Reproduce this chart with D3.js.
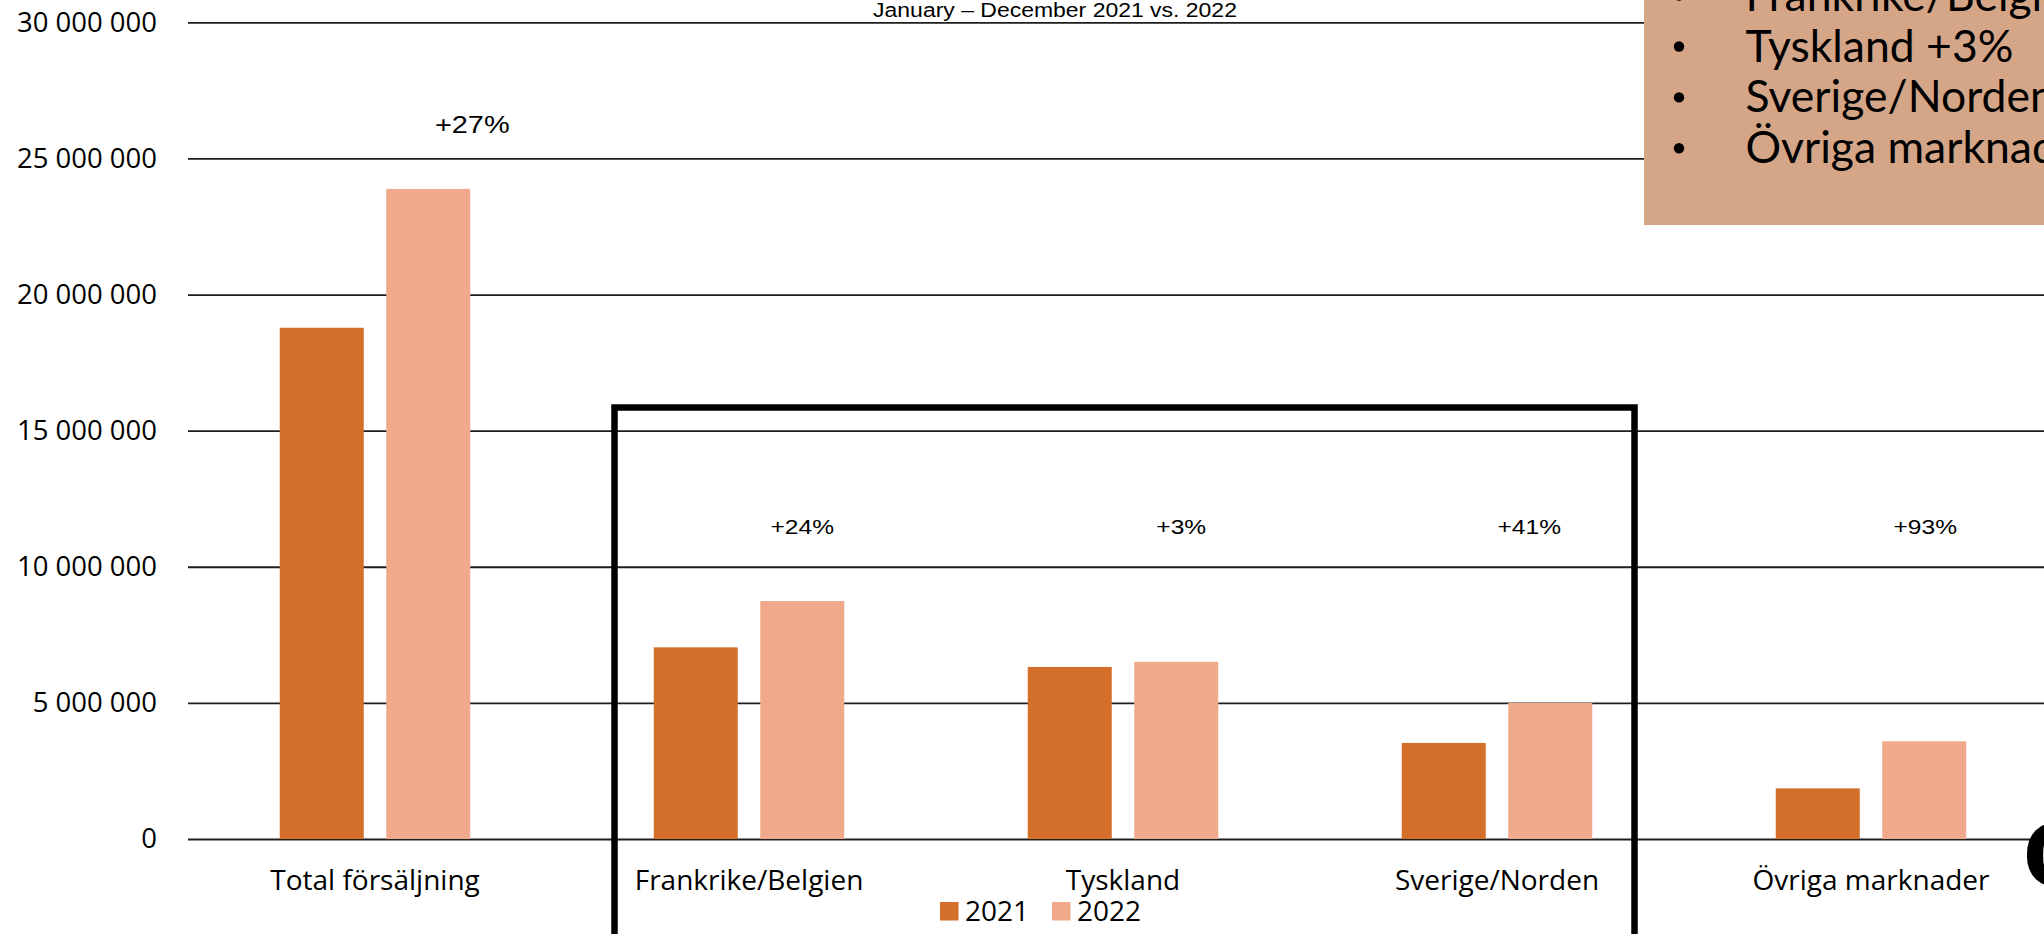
<!DOCTYPE html>
<html>
<head>
<meta charset="utf-8">
<script src="https://cdn.jsdelivr.net/npm/d3@7"></script>
<style>
  body { margin: 0; background: #fff; overflow: hidden; }
  svg { display: block; }
</style>
</head>
<body>
<div id="chart"></div>
<script>
// values (SEK)
var categories = ["Total försäljning", "Frankrike/Belgien", "Tyskland", "Sverige/Norden", "Övriga marknader"];
var years = ["2021", "2022"];
var sales2021 = [18780000, 7040000, 6320000, 3530000, 1860000];
var sales2022 = [23880000, 8740000, 6510000, 5000000, 3590000];
var changeLabels = ["+27%", "+24%", "+3%", "+41%", "+93%"];
var yTicks = [0, 5000000, 10000000, 15000000, 20000000, 25000000, 30000000];
var panelLines = ["Frankrike/Belgien +24%", "Tyskland +3%", "Sverige/Norden +41%", "Övriga marknader +93%"];
var titleText = "January \u2013 December 2021 vs. 2022";

var colors = { "2021": "#D36F2B", "2022": "#F1A98B" };

var W = 2044, H = 934;
var left = 188, right = 2058, zeroY = 839, topY = 22.3;

var data = categories.map(function(c, i) {
    return { cat: c, values: [sales2021[i], sales2022[i]], label: changeLabels[i] };
});

var svg = d3.select("#chart").append("svg")
    .attr("width", W)
    .attr("height", H);

svg.append("rect").attr("width", W).attr("height", H).attr("fill", "#fff");

// scales
var x0 = d3.scaleBand().domain(categories).range([left, right]).padding(0);
var x1 = d3.scaleBand().domain(years).range([0, x0.bandwidth()])
    .paddingInner(0.2113).paddingOuter(0.8615);
var y = d3.scaleLinear().domain([0, 30000000]).range([zeroY, topY]);

var fmt = function(v) { return d3.format(",")(v).replace(/,/g, " "); };

// y axis + gridlines
var yAxis = d3.axisLeft(y)
    .tickValues(yTicks)
    .tickFormat(fmt)
    .tickSize(-(right - left))
    .tickPadding(31);

var gy = svg.append("g")
    .attr("class", "y axis")
    .attr("transform", "translate(" + left + ",0)")
    .call(yAxis);
gy.select(".domain").remove();
gy.selectAll(".tick line").attr("stroke", "#1e1e1e").attr("stroke-width", 1.8);
gy.selectAll(".tick text")
    .attr("fill", "#000")
    .style("font-family", "'Open Sans', sans-serif")
    .style("font-size", "27.5px");

// x axis labels
var xAxis = d3.axisBottom(x0).tickSize(0).tickPadding(31.5);
var gx = svg.append("g")
    .attr("class", "x axis")
    .attr("transform", "translate(0," + zeroY + ")")
    .call(xAxis);
gx.select(".domain").remove();
gx.selectAll(".tick text")
    .attr("fill", "#000")
    .style("font-family", "'Open Sans', sans-serif")
    .style("font-size", "28px");

// bars
var groups = svg.selectAll(".group")
    .data(data)
    .enter().append("g")
    .attr("class", "group")
    .attr("transform", function(d) { return "translate(" + x0(d.cat) + ",0)"; });

groups.selectAll("rect")
    .data(function(d) { return d.values.map(function(v, i) { return { year: years[i], value: v }; }); })
    .enter().append("rect")
    .attr("x", function(d) { return x1(d.year); })
    .attr("y", function(d) { return y(d.value); })
    .attr("width", x1.bandwidth())
    .attr("height", function(d) { return y(0) - y(d.value); })
    .attr("fill", function(d) { return colors[d.year]; });

// highlight box round the three main markets
var boxLeft = x0("Frankrike/Belgien") + 52.5;
var boxRight = x0("Sverige/Norden") + x0.bandwidth() - 49.5;
svg.append("rect")
    .attr("x", boxLeft)
    .attr("y", y(15850000))
    .attr("width", boxRight - boxLeft)
    .attr("height", 700)
    .attr("fill", "none")
    .attr("stroke", "#000")
    .attr("stroke-width", 6.5);

// change labels
var labelNudge = [44, 0, 5, -21, 1];
svg.selectAll(".change")
    .data(data)
    .enter().append("text")
    .attr("class", "change")
    .attr("text-anchor", "middle")
    .attr("transform", function(d, i) {
        var cx = x0(d.cat) + x1("2022") + x1.bandwidth() / 2 + labelNudge[i];
        var by = i === 0 ? 132.7 : 534.3;
        return "translate(" + cx + "," + by + ") scale(1.17,1)";
    })
    .style("font-family", "'Liberation Sans', Arial, sans-serif")
    .style("font-size", function(d, i) { return i === 0 ? "24.7px" : "21px"; })
    .attr("fill", "#000")
    .text(function(d) { return d.label; });

// title (cut at the top edge)
svg.append("text")
    .attr("text-anchor", "middle")
    .attr("transform", "translate(1055,17) scale(1.094,1)")
    .style("font-family", "'Liberation Sans', Arial, sans-serif")
    .style("font-size", "21px")
    .attr("fill", "#000")
    .text(titleText);

// legend
var legend = svg.selectAll(".legend")
    .data(years)
    .enter().append("g")
    .attr("class", "legend")
    .attr("transform", function(d, i) { return "translate(" + (940 + i * 112) + ",902)"; });
legend.append("rect")
    .attr("width", 18.5)
    .attr("height", 18.5)
    .attr("fill", function(d) { return colors[d]; });
legend.append("text")
    .attr("x", 25)
    .attr("y", 18.5)
    .style("font-family", "'Open Sans', sans-serif")
    .style("font-size", "28px")
    .attr("fill", "#000")
    .text(function(d) { return d; });

// summary panel top right
var panel = svg.append("g").attr("class", "panel");
panel.append("rect")
    .attr("x", 1644)
    .attr("y", -10)
    .attr("width", 420)
    .attr("height", 235)
    .attr("fill", "#D4A587");
var lines = panel.selectAll(".pline")
    .data(panelLines)
    .enter().append("g")
    .attr("class", "pline")
    .attr("transform", function(d, i) { return "translate(0," + (10.6 + i * 50.9) + ")"; });
lines.append("circle")
    .attr("cx", 1679)
    .attr("cy", -15)
    .attr("r", 5.2)
    .attr("fill", "#000");
lines.append("text")
    .attr("x", 1745.5)
    .attr("y", 0)
    .style("font-family", "Lato, sans-serif")
    .style("font-size", "44.5px")
    .attr("fill", "#000")
    .text(function(d) { return d; });

// logo fragment bottom right
svg.append("text")
    .attr("x", 2022)
    .attr("y", 887)
    .style("font-family", "'Liberation Serif', serif")
    .style("font-weight", "bold")
    .style("font-size", "100px")
    .attr("fill", "#000")
    .text("C");
</script>
</body>
</html>
